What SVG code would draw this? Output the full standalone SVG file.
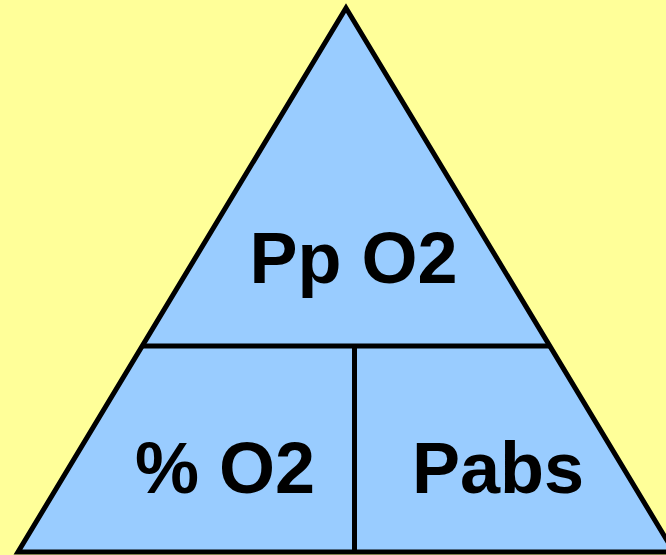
<svg xmlns="http://www.w3.org/2000/svg" width="666" height="555" viewBox="0 0 666 555">
<style>
.lbl{font-family:"Liberation Sans",Arial,sans-serif;font-weight:bold;font-size:72px;fill:#000;text-anchor:middle}
.ln{stroke:#000;stroke-width:5;fill:none}
</style>
<rect width="666" height="555" fill="#FFFF99"/>
<g id="triangle">
<polygon points="346,8 18,552 674,552" fill="#99CCFF" stroke="#000" stroke-width="5" stroke-linejoin="miter"/>
</g>
<g id="connectors">
<line class="ln" x1="143" y1="346" x2="549" y2="346"/>
<line class="ln" x1="354.5" y1="346" x2="354.5" y2="552"/>
</g>
<g id="node-ppo2"><text class="lbl" x="353.5" y="283">Pp O2</text></g>
<g id="node-pcto2"><text class="lbl" x="225" y="493">% O2</text></g>
<g id="node-pabs"><text class="lbl" x="498" y="493">Pabs</text></g>
</svg>
